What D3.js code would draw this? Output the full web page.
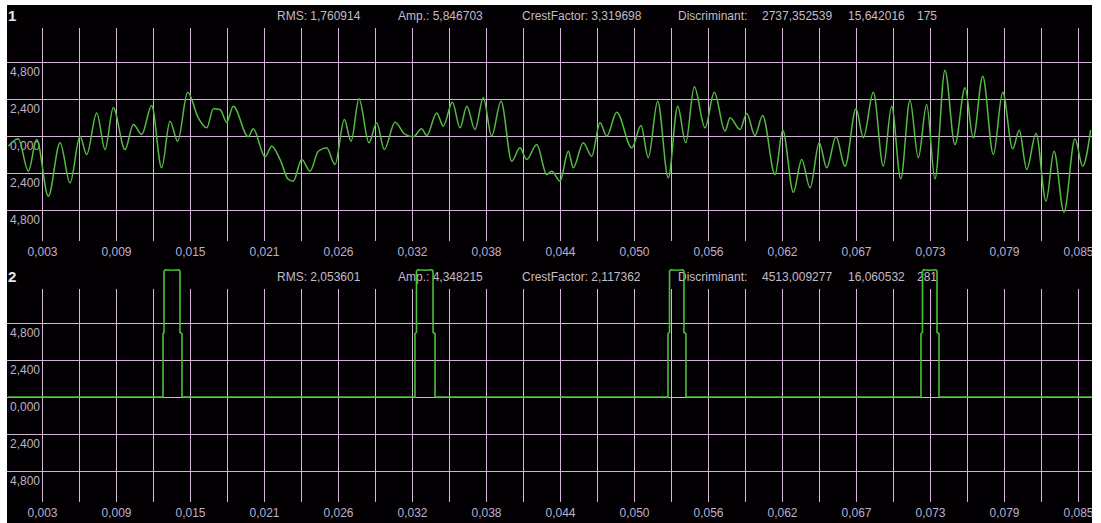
<!DOCTYPE html>
<html>
<head>
<meta charset="utf-8">
<script src="https://cdn.jsdelivr.net/npm/d3@7"></script>
<style>
  body { margin: 0; background: #fff; }
  #drawing-area { width: 1101px; height: 523px; }
  text { font-family: "Liberation Sans", Arial, sans-serif; }
</style>
</head>
<body>
<div id="drawing-area"></div>
<script>
// channel 1 : time in ms, amplitude (peaks/troughs)
var ch1Time = [0.33, 1.12, 1.92, 2.58, 3.50, 4.43, 5.22, 6.01, 6.54, 7.33, 7.99, 8.64, 9.57, 10.23, 10.89,
  11.68, 12.47, 13.13, 13.74, 14.53, 15.37, 16.04, 16.56, 17.09, 17.62, 18.14, 19.33, 19.72, 20.65, 21.18,
  21.84, 22.50, 22.89, 23.56, 24.21, 24.87, 25.53, 26.19, 26.93, 27.46, 28.09, 28.88, 29.49, 30.09, 30.94,
  31.73, 32.39, 33.05, 33.45, 34.24, 34.76, 35.48, 36.09, 36.62, 37.27, 37.93, 38.59, 39.33, 40.18, 40.83,
  41.36, 42.16, 42.95, 43.34, 44.00, 44.66, 45.05, 45.84, 46.51, 47.17, 47.70, 48.49, 49.68, 50.41, 50.99,
  51.73, 52.57, 53.32, 53.95, 54.63, 55.48, 56.21, 57.06, 57.46, 58.25, 58.78, 59.43, 60.04, 61.02, 61.63,
  62.47, 63.13, 63.79, 64.52, 65.11, 65.85, 66.56, 67.43, 68.01, 68.80, 69.59, 70.25, 70.97, 71.70, 72.36,
  73.02, 73.68, 74.47, 75.26, 76.06, 76.71, 77.46, 78.30, 79.04, 79.83, 80.35, 80.94, 81.68, 82.47, 83.10,
  83.89, 84.76, 85.37, 86.00];
var ch1Value = [-0.66, -0.18, -2.28, -0.23, -3.90, -0.44, -3.04, -0.01, -1.20, 1.50, -0.88, 1.83, -0.88, 0.75, 0.10,
  1.98, -2.06, 0.96, -0.34, 2.84, 1.18, 0.53, 1.76, 1.72, 0.90, 1.93, -0.05, 0.47, -1.35, -0.66,
  -1.52, -2.82, -2.93, -1.52, -2.28, -0.99, -0.77, -1.85, 1.07, -0.34, 2.41, -0.44, 0.86, -0.88, 0.90,
  0.10, -0.05, 0.47, 0.03, 1.50, 0.64, 2.19, 0.53, 1.93, 0.42, 2.48, -0.01, 2.26, -1.63, -0.77,
  -1.52, -0.55, -2.50, -2.28, -2.93, -0.99, -2.06, -0.44, -1.31, 0.86, -0.01, 1.54, -0.77, 0.68, -1.41,
  2.26, -2.71, 1.93, -0.44, 3.19, 0.53, 2.84, 0.31, 1.18, 0.42, 1.46, 0.03, 1.33, -2.50, 0.38,
  -3.65, -1.52, -3.36, -0.44, -2.06, -0.05, -1.96, 1.76, -0.12, 2.84, -1.96, 1.93, -2.78, 2.32, -1.41,
  2.04, -2.78, 4.27, -0.55, 3.13, -0.12, 3.88, -1.20, 2.84, -0.83, 0.38, -2.17, 0.16, -4.23, -0.99,
  -4.94, -0.18, -1.96, 0.38];

// channel 2 : square pulses
var ch2Time = [0.33,
  12.58, 12.58, 12.66, 12.66, 12.75, 13.30, 13.84, 13.92, 13.92, 14.08, 14.08,
  32.52, 32.52, 32.64, 32.64, 32.73, 33.30, 33.87, 33.95, 33.95, 34.11, 34.11,
  52.55, 52.55, 52.67, 52.67, 52.76, 53.25, 53.73, 53.81, 53.81, 53.97, 53.97,
  72.57, 72.57, 72.69, 72.69, 72.78, 73.25, 73.76, 73.84, 73.84, 74.00, 74.00,
  86.10];
var ch2Value = [0,
  0, 4.1, 4.2, 8.15, 8.25, 8.22, 8.25, 8.15, 4.2, 4.1, 0,
  0, 4.1, 4.2, 8.15, 8.25, 8.22, 8.25, 8.15, 4.2, 4.1, 0,
  0, 4.1, 4.2, 8.15, 8.25, 8.22, 8.25, 8.15, 4.2, 4.1, 0,
  0, 4.1, 4.2, 8.15, 8.25, 8.22, 8.25, 8.15, 4.2, 4.1, 0,
  0];

var xTickLabels = ["0,003", "0,009", "0,015", "0,021", "0,026", "0,032", "0,038", "0,044",
  "0,050", "0,056", "0,062", "0,067", "0,073", "0,079", "0,085"];
var yTickValues = [4.8, 2.4, 0, -2.4, -4.8];
var yTickLabels = ["4,800", "2,400", "0,000", "2,400", "4,800"];

var stats1 = ["RMS: 1,760914", "Amp.: 5,846703", "CrestFactor: 3,319698", "Discriminant:", "2737,352539", "15,642016", "175"];
var stats2 = ["RMS: 2,053601", "Amp.: 4,348215", "CrestFactor: 2,117362", "Discriminant:", "4513,009277", "16,060532", "281"];

var sx = 1101, sy = 523;
var svg = d3.select('#drawing-area').append('svg').attr('width', sx).attr('height', sy);

svg.append('defs').append('clipPath').attr('id', 'clip')
    .append('rect').attr('x', 7).attr('y', 5).attr('width', 1085).attr('height', 518);

var area = svg.append('g').attr('clip-path', 'url(#clip)');
area.append('rect').attr('x', 7).attr('y', 5).attr('width', 1085).attr('height', 518).attr('fill', '#030003');

var x = d3.scaleLinear().domain([3, 85]).range([42, 1078]);
var gridTimes = d3.range(29).map(function (k) { return 3 + k * 82 / 28; });
var statX = [277, 398, 522, 678, 762, 848, 917];
var gridColour = '#d3b5d6';

function panel(name, offset, times, values, stats, curve, colour, width) {
    var g = area.append('g').attr('transform', 'translate(0,' + offset + ')');
    var y = d3.scaleLinear().domain([-4.8, 4.8]).range([210, 62]);

    // vertical grid
    g.selectAll('line.v').data(gridTimes).enter().append('line')
        .attr('x1', function (d) { return Math.round(x(d)) + 0.5; })
        .attr('x2', function (d) { return Math.round(x(d)) + 0.5; })
        .attr('y1', 28).attr('y2', 241)
        .attr('stroke', gridColour).attr('stroke-width', 1);
    // horizontal grid
    g.selectAll('line.h').data(yTickValues).enter().append('line')
        .attr('x1', 7).attr('x2', 1092)
        .attr('y1', function (d) { return Math.round(y(d)) + 0.5; })
        .attr('y2', function (d) { return Math.round(y(d)) + 0.5; })
        .attr('stroke', gridColour).attr('stroke-width', 1);

    // y labels
    g.selectAll('text.yl').data(yTickValues).enter().append('text')
        .attr('x', 40).attr('y', function (d) { return Math.round(y(d)) + 14; })
        .attr('text-anchor', 'end').attr('font-size', 12).attr('fill', '#bdb3c2')
        .text(function (d, i) { return yTickLabels[i]; });

    // x labels
    g.selectAll('text.xl').data(xTickLabels).enter().append('text')
        .attr('x', function (d, i) { return x(gridTimes[i * 2]) + 0.5; }).attr('y', 256)
        .attr('text-anchor', 'middle').attr('font-size', 12).attr('fill', '#b9b0d0')
        .text(function (d) { return d; });

    // header
    g.append('text').attr('x', 8).attr('y', 21).attr('font-size', 15).attr('font-weight', 'bold')
        .attr('fill', '#e8e4e8').text(name);
    g.selectAll('text.st').data(stats).enter().append('text')
        .attr('x', function (d, i) { return statX[i]; }).attr('y', 20)
        .attr('font-size', 12).attr('fill', '#c4bcc6')
        .text(function (d) { return d; });

    // signal
    var line = d3.line()
        .x(function (d) { return x(d[0]); })
        .y(function (d) { return y(d[1]); })
        .curve(curve);
    g.append('path').datum(d3.zip(times, values))
        .attr('d', line).attr('fill', 'none')
        .attr('stroke', colour).attr('stroke-width', width);
}

panel('1', 0, ch1Time, ch1Value, stats1, d3.curveMonotoneX, '#55bb44', 1.5);
panel('2', 261, ch2Time, ch2Value, stats2, d3.curveLinear, '#47c235', 1.6);
</script>
</body>
</html>
